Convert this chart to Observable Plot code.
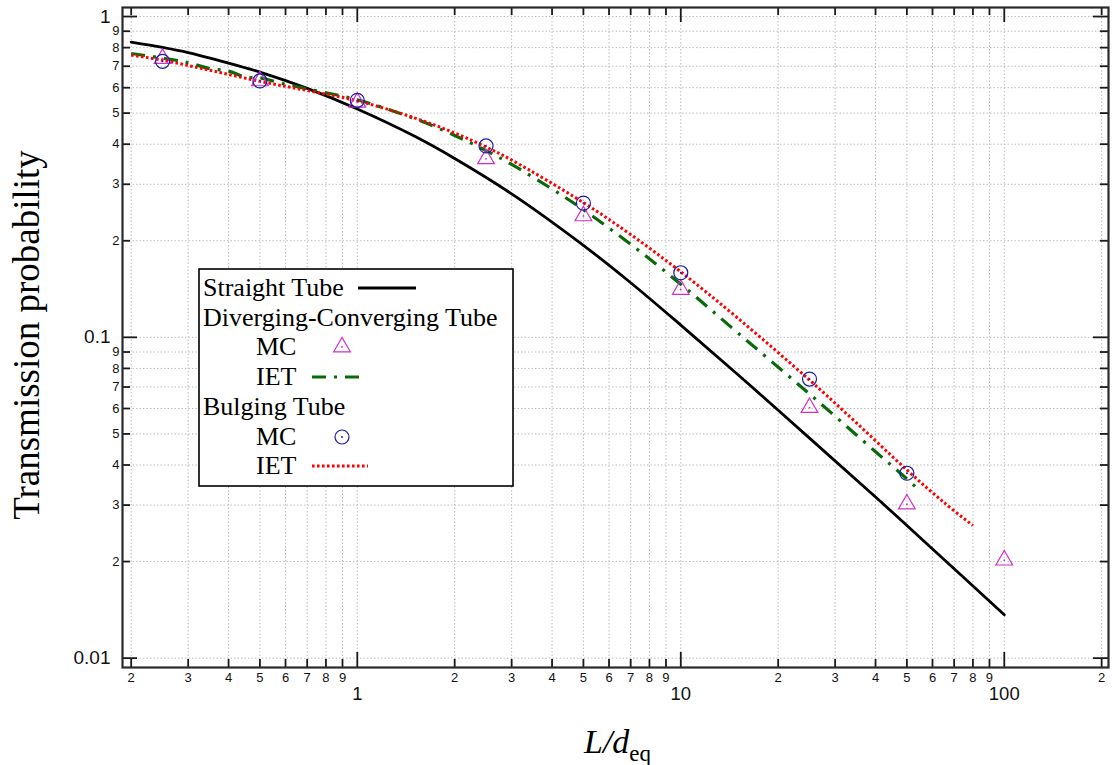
<!DOCTYPE html>
<html>
<head>
<meta charset="utf-8">
<script src="https://cdn.jsdelivr.net/npm/d3@7"></script>
<script src="https://cdn.jsdelivr.net/npm/@observablehq/plot@0.6"></script>
<style>
  html, body { margin: 0; padding: 0; background: #fff; }
  svg { display: block; }
</style>
</head>
<body>
<div id="chart"></div>
<script>
// ---------- Data ----------
// Straight tube (solid black)
const straightX = [0.2, 0.25, 0.3, 0.4, 0.5, 0.7, 1, 1.5, 2, 3, 5, 7, 10, 15, 25, 40, 60, 100];
const straightY = [0.832, 0.801, 0.772, 0.716, 0.671, 0.597, 0.515, 0.424, 0.361, 0.28, 0.1935, 0.148, 0.1092, 0.0766, 0.0485, 0.0318, 0.0219, 0.01365];

// Diverging-Converging tube, IET (green dash-dot)
const divIetX = [0.2, 0.25, 0.3, 0.35, 0.4, 0.45, 0.5, 0.58, 0.7, 1, 1.5, 2, 2.5, 3, 4, 5, 7, 10, 15, 25, 40, 50, 55];
const divIetY = [0.767, 0.742, 0.718, 0.688, 0.676, 0.648, 0.644, 0.62, 0.595, 0.55, 0.481, 0.426, 0.382, 0.346, 0.29, 0.25, 0.195, 0.1464, 0.1033, 0.0666, 0.044, 0.0362, 0.0331];

// Diverging-Converging tube, MC (magenta triangles)
const divMcX = [0.25, 0.5, 1, 2.5, 5, 10, 25, 50, 100];
const divMcY = [0.74, 0.63, 0.54, 0.36, 0.239, 0.141, 0.0604, 0.0302, 0.0202];

// Bulging tube, IET (red dotted)
const bulIetX = [0.2, 0.25, 0.35, 0.5, 0.7, 1, 1.5, 2, 2.5, 3, 5, 7, 10, 15, 25, 35, 50, 65, 80];
const bulIetY = [0.758, 0.731, 0.68, 0.628, 0.588, 0.546, 0.4834, 0.4334, 0.392, 0.357, 0.263, 0.2091, 0.16, 0.1148, 0.0736, 0.054, 0.0386, 0.0306, 0.0259];

// Bulging tube, MC (blue circles)
const bulMcX = [0.25, 0.5, 1, 2.5, 5, 10, 25, 50];
const bulMcY = [0.725, 0.63, 0.548, 0.395, 0.262, 0.159, 0.0741, 0.0377];

// Axis ticks
const xMinorTicks = [0.2, 0.3, 0.4, 0.5, 0.6, 0.7, 0.8, 0.9, 2, 3, 4, 5, 6, 7, 8, 9, 20, 30, 40, 50, 60, 70, 80, 90, 200];
const xMajorTicks = [1, 10, 100];
const xMajorLabels = ["1", "10", "100"];
const yMinorTicks = [0.02, 0.03, 0.04, 0.05, 0.06, 0.07, 0.08, 0.09, 0.2, 0.3, 0.4, 0.5, 0.6, 0.7, 0.8, 0.9];
const yMajorTicks = [0.01, 0.1, 1];
const yMajorLabels = ["0.01", "0.1", "1"];

const xLabel = "L/d";
const xLabelSub = "eq";
const yLabel = "Transmission probability";
const legendItems = ["Straight Tube", "Diverging-Converging Tube", "MC", "IET", "Bulging Tube", "MC", "IET"];

// ---------- Build tables ----------
const toRows = (xs, ys) => xs.map((x, i) => ({x, y: ys[i]}));
const straight = toRows(straightX, straightY);
const divIet = toRows(divIetX, divIetY);
const divMc = toRows(divMcX, divMcY);
const bulIet = toRows(bulIetX, bulIetY);
const bulMc = toRows(bulMcX, bulMcY);

const W = 1112, H = 765;
const mL = 122, mR = 4, mT = 7, mB = 98;
const frameW = W - mL - mR, frameH = H - mT - mB;

const digit = d => String(Math.round(d / Math.pow(10, Math.floor(Math.log10(d) + 1e-9))));
const majorXLabel = d => xMajorLabels[xMajorTicks.indexOf(d)];
const majorYLabel = d => yMajorLabels[yMajorTicks.indexOf(d)];

const AX = "#1a1a1a";
const GRID = "#bdbdbd";
const MAG = "#d030c8";
const BLUE = "#1a1aa8";
const GREEN = "#0a6a0a";
const RED = "#ff0000";

const minorLen = 8, majorLen = 15;

const chart = Plot.plot({
  width: W,
  height: H,
  marginLeft: mL, marginRight: mR, marginTop: mT, marginBottom: mB,
  style: {fontFamily: "'Liberation Sans', Arial, Helvetica, sans-serif", background: "#fff", color: "#111"},
  x: {type: "log", domain: [0.188, 210], axis: null},
  y: {type: "log", domain: [0.00935, 1.067], axis: null},
  marks: [
    // grid
    Plot.gridX([...xMinorTicks, ...xMajorTicks], {stroke: GRID, strokeOpacity: 1, strokeWidth: 1, strokeDasharray: "1.5,2"}),
    Plot.gridY([...yMinorTicks, ...yMajorTicks], {stroke: GRID, strokeOpacity: 1, strokeWidth: 1, strokeDasharray: "1.5,2"}),
    // curves
    Plot.line(straight, {x: "x", y: "y", stroke: "#000", strokeWidth: 2.8, curve: "catmull-rom"}),
    Plot.line(divIet, {x: "x", y: "y", stroke: GREEN, strokeWidth: 3.2, strokeDasharray: "14,8,3,8", strokeLinecap: "butt", curve: "catmull-rom"}),
    Plot.line(bulIet, {x: "x", y: "y", stroke: RED, strokeWidth: 3, strokeDasharray: "2.6,2.4", strokeLinecap: "butt", curve: "catmull-rom"}),
    // MC points
    Plot.dot(divMc, {x: "x", y: "y", symbol: "triangle", r: 6.2, stroke: MAG, strokeWidth: 1.2, fill: "none"}),
    Plot.dot(divMc, {x: "x", y: "y", r: 0.9, fill: MAG, stroke: "none"}),
    Plot.dot(bulMc, {x: "x", y: "y", symbol: "circle", r: 7, stroke: BLUE, strokeWidth: 1.2, fill: "none"}),
    Plot.dot(bulMc, {x: "x", y: "y", r: 0.9, fill: BLUE, stroke: "none"}),
    // inward ticks: bottom / top
    Plot.tickX(xMinorTicks, {x: d => d, insetTop: frameH - minorLen, stroke: AX, strokeWidth: 1.8}),
    Plot.tickX(xMajorTicks, {x: d => d, insetTop: frameH - majorLen, stroke: AX, strokeWidth: 1.8}),
    Plot.tickX(xMinorTicks, {x: d => d, insetBottom: frameH - minorLen, stroke: AX, strokeWidth: 1.8}),
    Plot.tickX(xMajorTicks, {x: d => d, insetBottom: frameH - majorLen, stroke: AX, strokeWidth: 1.8}),
    // inward ticks: left / right
    Plot.tickY(yMinorTicks, {y: d => d, insetRight: frameW - minorLen, stroke: AX, strokeWidth: 1.8}),
    Plot.tickY(yMajorTicks, {y: d => d, insetRight: frameW - majorLen, stroke: AX, strokeWidth: 1.8}),
    Plot.tickY(yMinorTicks, {y: d => d, insetLeft: frameW - minorLen, stroke: AX, strokeWidth: 1.8}),
    Plot.tickY(yMajorTicks, {y: d => d, insetLeft: frameW - majorLen, stroke: AX, strokeWidth: 1.8}),
    // frame
    Plot.frame({stroke: "#2a2a2a", strokeWidth: 2.2}),
    // tick labels
    Plot.text(xMinorTicks, {x: d => d, frameAnchor: "bottom", text: digit, dy: 10.5, lineAnchor: "middle", fontSize: 13, fill: "#111"}),
    Plot.text(xMajorTicks, {x: d => d, frameAnchor: "bottom", text: majorXLabel, dy: 27, lineAnchor: "middle", fontSize: 18.5, fill: "#111"}),
    Plot.text(yMinorTicks, {y: d => d, frameAnchor: "left", text: digit, dx: -3, textAnchor: "end", lineAnchor: "middle", fontSize: 13, fill: "#111"}),
    Plot.text(yMajorTicks, {y: d => d, frameAnchor: "left", text: majorYLabel, dx: -12, textAnchor: "end", lineAnchor: "middle", fontSize: 19, fill: "#111"})
  ]
});

document.getElementById("chart").appendChild(chart);

// ---------- Titles and legend (placed in pixel space) ----------
const svg = d3.select(chart);
const serif = "'Liberation Serif', 'Times New Roman', Times, serif";

svg.append("text")
  .attr("transform", "translate(39,335) rotate(-90)")
  .attr("text-anchor", "middle")
  .attr("font-family", serif)
  .attr("font-size", 37)
  .attr("fill", "#000")
  .text(yLabel);

const xt = svg.append("text")
  .attr("x", 584).attr("y", 753)
  .attr("text-anchor", "start")
  .attr("font-family", serif)
  .attr("fill", "#000");
xt.append("tspan").attr("font-size", 34).attr("font-style", "italic").text(xLabel);
xt.append("tspan").attr("font-size", 23).attr("dy", 8).text(xLabelSub);

const lg = svg.append("g");
lg.append("rect")
  .attr("x", 199).attr("y", 269).attr("width", 314).attr("height", 217)
  .attr("fill", "#fff").attr("stroke", "#000").attr("stroke-width", 1.6);

const rowBase = [296, 325.5, 355, 385, 415, 445, 474];
const rowX = [203, 203, 256, 256, 203, 256, 256];
legendItems.forEach((t, i) => {
  lg.append("text")
    .attr("x", rowX[i]).attr("y", rowBase[i])
    .attr("text-anchor", "start")
    .attr("font-family", serif).attr("font-size", 26).attr("fill", "#000")
    .text(t);
});
// samples
lg.append("line").attr("x1", 358).attr("x2", 416).attr("y1", 288).attr("y2", 288)
  .attr("stroke", "#000").attr("stroke-width", 2.8);
lg.append("path").attr("transform", "translate(342,347)")
  .attr("d", d3.symbol(d3.symbolTriangle, Math.PI * 6.2 * 6.2)())
  .attr("fill", "none").attr("stroke", MAG).attr("stroke-width", 1.2);
lg.append("circle").attr("cx", 342).attr("cy", 347).attr("r", 0.9).attr("fill", MAG);
lg.append("line").attr("x1", 312).attr("x2", 364).attr("y1", 377).attr("y2", 377)
  .attr("stroke", GREEN).attr("stroke-width", 3.2).attr("stroke-dasharray", "14,8,3,8");
lg.append("circle").attr("cx", 342).attr("cy", 437).attr("r", 7)
  .attr("fill", "none").attr("stroke", BLUE).attr("stroke-width", 1.2);
lg.append("circle").attr("cx", 342).attr("cy", 437).attr("r", 0.9).attr("fill", BLUE);
lg.append("line").attr("x1", 312).attr("x2", 368).attr("y1", 466).attr("y2", 466)
  .attr("stroke", RED).attr("stroke-width", 3).attr("stroke-dasharray", "2.6,2.4");
</script>
</body>
</html>
